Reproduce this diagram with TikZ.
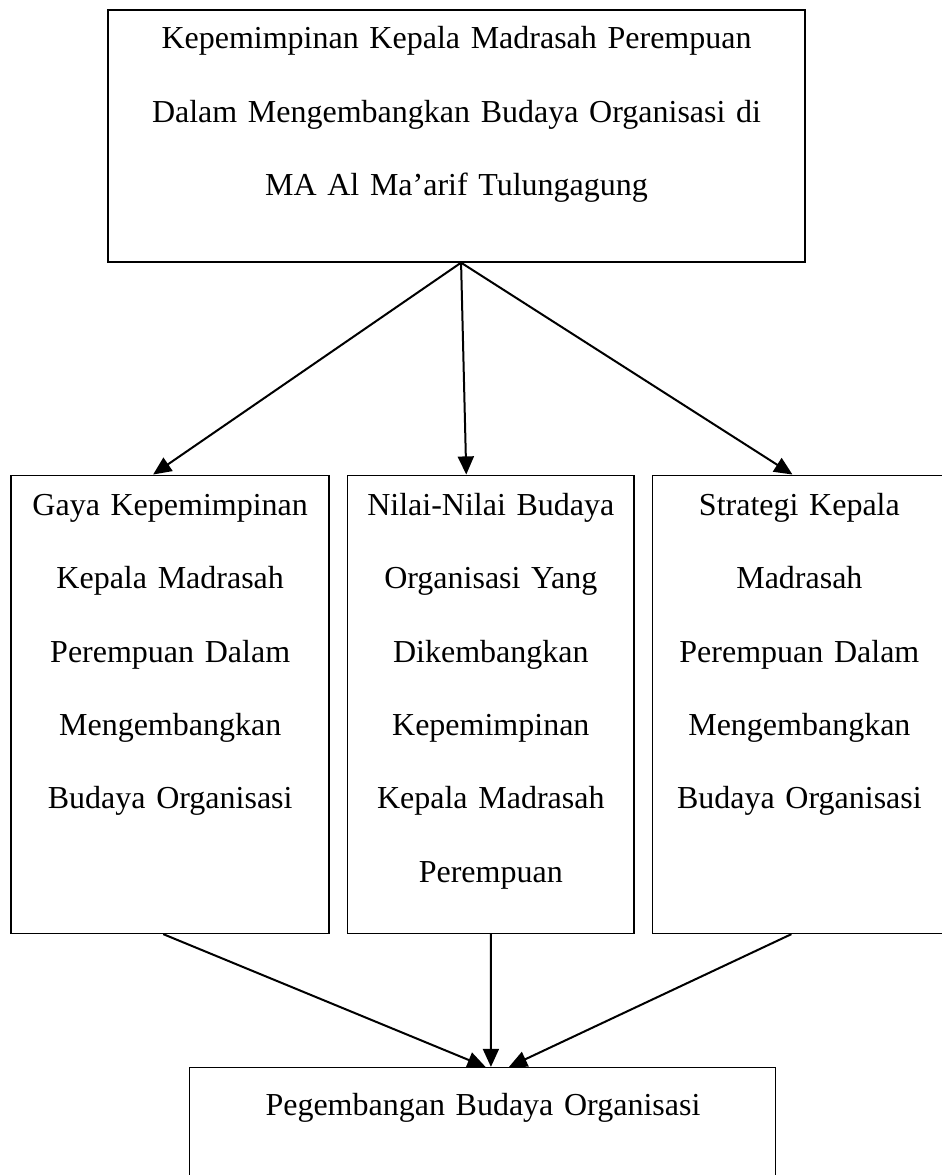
\documentclass[tikz,border=0pt]{standalone}
\usepackage{fontspec}
\setmainfont{Liberation Serif}
\usetikzlibrary{matrix,arrows.meta}

\begin{document}
\begin{tikzpicture}[
  box/.style={draw, line width=0.6pt, inner sep=0pt, align=center, text height=15pt,
    font=\fontsize{12}{27.5}\selectfont},
  conn/.style={line width=0.75pt, -{Triangle[length=6.8pt,width=6pt]}}
]
  \useasboundingbox (0,0) rectangle (353.25pt,-440.625pt);
  \node (top) [box, anchor=north, text width=261.4pt, text height=14.6pt, text depth=79.9pt] at (171.2pt,-3.4pt)
    {Kepemimpinan Kepala Madrasah Perempuan\\ Dalam Mengembangkan Budaya Organisasi di\\ MA Al Ma’arif Tulungagung};
  \matrix (m) [matrix of nodes, anchor=north west, inner sep=0pt, column sep=6.2pt,
    nodes={box, text depth=156.75pt}] at (3.7pt,-177.75pt)
  {
 |[text width=119.25pt]| {Gaya Kepemimpinan\\ Kepala Madrasah\\ Perempuan Dalam\\ Mengembangkan\\ Budaya Organisasi}
 & |[text width=107.6pt]| {Nilai-Nilai Budaya\\ Organisasi Yang\\ Dikembangkan\\ Kepemimpinan\\ Kepala Madrasah\\ Perempuan}
 & |[text width=110.25pt]| {Strategi Kepala\\ Madrasah\\ Perempuan Dalam\\ Mengembangkan\\ Budaya Organisasi} \\
  };
  \node (pgb) [box, anchor=north, line width=0.4pt, text width=219.75pt, text height=18pt, text depth=60pt] at (181.1pt,-400.1pt)
    {Pegembangan Budaya Organisasi};
  \path[conn]
  ([xshift=1.7pt]top.south) edge ([xshift=-6.4pt]m-1-1.north)
	edge ([xshift=-9.2pt]m-1-2.north)
	edge ([xshift=-2.6pt]m-1-3.north)
  ([xshift=-2.6pt]m-1-1.south) edge ([xshift=1pt]pgb.north)
	(m-1-2.south) edge ([xshift=3pt]pgb.north)
	([xshift=-3pt]m-1-3.south) edge ([xshift=9.75pt]pgb.north)
  ;
\end{tikzpicture}
\end{document}
